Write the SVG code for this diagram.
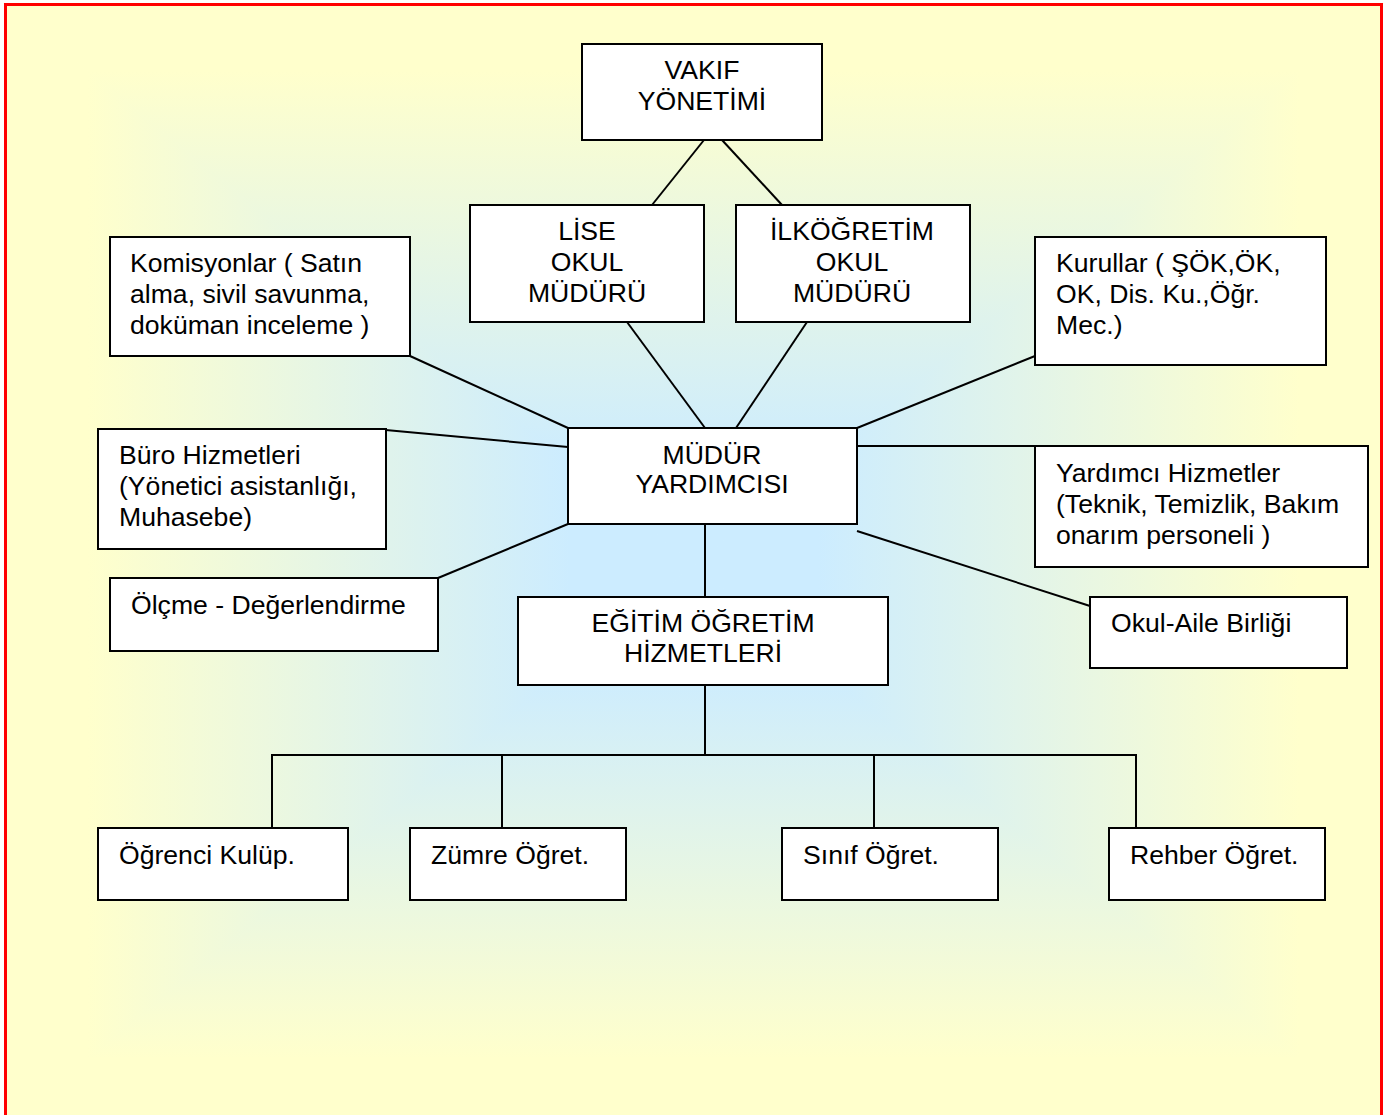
<svg xmlns="http://www.w3.org/2000/svg" width="1392" height="1115" viewBox="0 0 1392 1115">
<defs>
<linearGradient id="gT" gradientUnits="userSpaceOnUse" x1="0" y1="4" x2="0" y2="565"><stop offset="0" stop-color="#FFFFCC"/><stop offset="0.12" stop-color="#FFFFCC"/><stop offset="0.82" stop-color="#CCECFF"/><stop offset="1" stop-color="#CCECFF"/></linearGradient>
<linearGradient id="gB" gradientUnits="userSpaceOnUse" x1="0" y1="1126" x2="0" y2="565"><stop offset="0" stop-color="#FFFFCC"/><stop offset="0.12" stop-color="#FFFFCC"/><stop offset="0.82" stop-color="#CCECFF"/><stop offset="1" stop-color="#CCECFF"/></linearGradient>
<linearGradient id="gL" gradientUnits="userSpaceOnUse" x1="5" y1="0" x2="694" y2="0"><stop offset="0" stop-color="#FFFFCC"/><stop offset="0.12" stop-color="#FFFFCC"/><stop offset="0.82" stop-color="#CCECFF"/><stop offset="1" stop-color="#CCECFF"/></linearGradient>
<linearGradient id="gR" gradientUnits="userSpaceOnUse" x1="1382" y1="0" x2="694" y2="0"><stop offset="0" stop-color="#FFFFCC"/><stop offset="0.12" stop-color="#FFFFCC"/><stop offset="0.82" stop-color="#CCECFF"/><stop offset="1" stop-color="#CCECFF"/></linearGradient>
</defs>
<style>
.box{fill:#FFFFFF;stroke:#000000;stroke-width:2}
.ln{stroke:#000000;stroke-width:2;fill:none}
text{font-family:"Liberation Sans",Arial,sans-serif;font-size:26.6px;fill:#000000}
.c{text-anchor:middle}
</style>
<rect x="0" y="0" width="1392" height="1115" fill="#FFFFFF"/>
<g id="background">
<polygon points="5,4 1382,4 694,565" fill="url(#gT)" stroke="url(#gT)" stroke-width="1.5"/>
<polygon points="5,1126 1382,1126 694,565" fill="url(#gB)" stroke="url(#gB)" stroke-width="1.5"/>
<polygon points="5,4 5,1126 694,565" fill="url(#gL)" stroke="url(#gL)" stroke-width="1.5"/>
<polygon points="1382,4 1382,1126 694,565" fill="url(#gR)" stroke="url(#gR)" stroke-width="1.5"/>
<rect x="5.5" y="4.5" width="1376" height="1130" fill="none" stroke="#FF0000" stroke-width="3"/>
</g>
<g id="connectors">
<line class="ln" x1="704" y1="140" x2="652" y2="205"/>
<line class="ln" x1="722" y1="140" x2="782" y2="205"/>
<line class="ln" x1="627" y1="322" x2="705" y2="428"/>
<line class="ln" x1="807" y1="322" x2="736" y2="428"/>
<line class="ln" x1="410" y1="356" x2="568" y2="428"/>
<line class="ln" x1="568" y1="447" x2="375" y2="429"/>
<line class="ln" x1="568" y1="524" x2="438" y2="578"/>
<line class="ln" x1="857" y1="428" x2="1035" y2="356"/>
<line class="ln" x1="857" y1="446" x2="1052" y2="446"/>
<line class="ln" x1="857" y1="531" x2="1090" y2="606"/>
<line class="ln" x1="705" y1="524" x2="705" y2="597"/>
<line class="ln" x1="705" y1="669" x2="705" y2="755"/>
<polyline class="ln" points="272,828 272,755 1136,755 1136,828"/>
<line class="ln" x1="502" y1="755" x2="502" y2="828"/>
<line class="ln" x1="874" y1="755" x2="874" y2="828"/>
</g>
<g id="vakif"><rect class="box" x="582" y="44" width="240" height="96"/><text class="c" x="702" y="79">VAKIF</text><text class="c" x="702" y="110">YÖNETİMİ</text></g>
<g id="lise"><rect class="box" x="470" y="205" width="234" height="117"/><text class="c" x="587" y="240">LİSE</text><text class="c" x="587" y="271">OKUL</text><text class="c" x="587" y="302">MÜDÜRÜ</text></g>
<g id="ilkogretim"><rect class="box" x="736" y="205" width="234" height="117"/><text class="c" x="852" y="240">İLKÖĞRETİM</text><text class="c" x="852" y="271">OKUL</text><text class="c" x="852" y="302">MÜDÜRÜ</text></g>
<g id="komisyonlar"><rect class="box" x="110" y="237" width="300" height="119"/><text x="130" y="272">Komisyonlar ( Satın</text><text x="130" y="303">alma, sivil savunma,</text><text x="130" y="334">doküman inceleme )</text></g>
<g id="kurullar"><rect class="box" x="1035" y="237" width="291" height="128"/><text x="1056" y="272">Kurullar ( ŞÖK,ÖK,</text><text x="1056" y="303">OK, Dis. Ku.,Öğr.</text><text x="1056" y="334">Mec.)</text></g>
<g id="buro"><rect class="box" x="98" y="429" width="288" height="120"/><text x="119" y="464">Büro Hizmetleri</text><text x="119" y="495">(Yönetici asistanlığı,</text><text x="119" y="526">Muhasebe)</text></g>
<g id="mudur-yardimcisi"><rect class="box" x="568" y="428" width="289" height="96"/><text class="c" x="712" y="464">MÜDÜR</text><text class="c" x="712" y="493">YARDIMCISI</text></g>
<g id="yardimci"><rect class="box" x="1035" y="446" width="333" height="121"/><text x="1056" y="482">Yardımcı Hizmetler</text><text x="1056" y="513">(Teknik, Temizlik, Bakım</text><text x="1056" y="544">onarım personeli )</text></g>
<g id="olcme"><rect class="box" x="110" y="578" width="328" height="73"/><text x="131" y="614">Ölçme - Değerlendirme</text></g>
<g id="egitim"><rect class="box" x="518" y="597" width="370" height="88"/><text class="c" x="703" y="632">EĞİTİM ÖĞRETİM</text><text class="c" x="703" y="662">HİZMETLERİ</text></g>
<g id="okul-aile"><rect class="box" x="1090" y="597" width="257" height="71"/><text x="1111" y="632">Okul-Aile Birliği</text></g>
<g id="ogrenci"><rect class="box" x="98" y="828" width="250" height="72"/><text x="119" y="864">Öğrenci Kulüp.</text></g>
<g id="zumre"><rect class="box" x="410" y="828" width="216" height="72"/><text x="431" y="864">Zümre Öğret.</text></g>
<g id="sinif"><rect class="box" x="782" y="828" width="216" height="72"/><text x="803" y="864">Sınıf Öğret.</text></g>
<g id="rehber"><rect class="box" x="1109" y="828" width="216" height="72"/><text x="1130" y="864">Rehber Öğret.</text></g>
</svg>
